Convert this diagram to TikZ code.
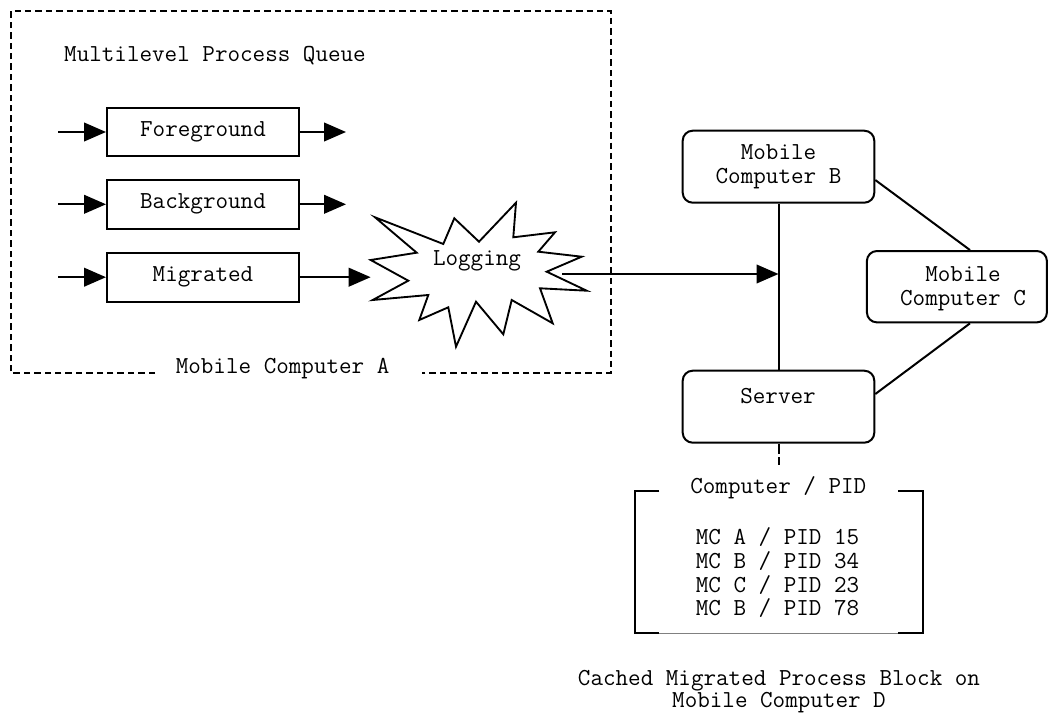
\documentclass[tikz,border=0pt]{standalone}
\usepackage{fontspec}
\usetikzlibrary{arrows.meta}
\begin{document}
\begin{tikzpicture}[x=0.75pt,y=-0.75pt,
  every node/.style={font=\ttfamily\fontsize{18.3}{17.8}\selectfont, inner sep=0pt, align=center},
  qbox/.style={draw, line width=1.5pt, minimum width=144pt, minimum height=36.6pt},
  rbox/.style={draw, line width=1.5pt, rounded corners=7.5pt, minimum height=54pt},
  arr/.style={line width=1.5pt, -{Triangle[length=16.5pt,width=14pt]}},
  link/.style={line width=1.5pt},
  frame/.style={line width=1.2pt, dash pattern=on 4.8pt off 3pt},
  bracket/.style={line width=1.5pt},
]
\useasboundingbox (0,0) rectangle (1050,713);

% ---- Mobile Computer A frame
\draw[frame] (155,373) -- (11,373) -- (11,11) -- (611,11) -- (611,373) -- (422,373);
\node (mca) at (282.6,369) {Mobile Computer A};
\node (mlq) at (215,56) {Multilevel Process Queue};

% ---- queues
\node[qbox] (fg)  at (203,132)   {Foreground};
\node[qbox] (bg)  at (203,204.3) {Background};
\node[qbox] (mig) at (203,277.2) {Migrated};

\coordinate (fgin)  at (58,132);
\coordinate (bgin)  at (58,204.3);
\coordinate (migin) at (58,277.2);
\coordinate (fgout) at (346,132);
\coordinate (bgout) at (346,204.3);

\draw[arr] (fgin) -- (fg.west);
\draw[arr] (bgin) -- (bg.west);
\draw[arr] (migin) -- (mig.west);
\draw[arr] (fg.east) -- (fgout);
\draw[arr] (bg.east) -- (bgout);

% ---- Logging star
\node[minimum width=162pt, minimum height=108pt] (log) at (478.9,274.7) {};
\draw[line width=1.4pt, line join=miter, fill=white]
 (375,217.3) -- (443.3,244) -- (454.3,218.3) -- (479,241.7) -- (516,202.7)
 -- (513.3,237.3) -- (555,232.3) -- (538.3,251.7) -- (581.7,256.7)
 -- (546.7,271.7) -- (586.7,290.7) -- (540,288.3) -- (552.7,323.3)
 -- (511.7,300) -- (503.3,334.3) -- (476,301.7) -- (456,346.7)
 -- (448.3,307.3) -- (419.3,320) -- (428.3,295) -- (372.7,300)
 -- (408.3,280.7) -- (370.7,260) -- (416.7,252.7) -- cycle;
\node (logtext) at (477,261) {Logging};
\draw[arr] (mig.east) -- (mig.east -| log.west);

% ---- network
\node[rbox, minimum width=143.7pt] (B) at (778.5,166.7) {Mobile\\Computer B};
\node[rbox, minimum width=135pt, minimum height=53.5pt] (C) at (956.9,286.7) {};
\node (Ctext) at (963,289) {Mobile\\Computer C};
\node[rbox, minimum width=143.7pt] (srv) at (778.5,406.7) {};
\node (srvtext) at (778,396) {Server};

\draw[link] (B.south) -- (srv.north);
\draw[link] ([yshift=-10pt]B.east) -- ([xshift=9.8pt]C.north);
\draw[link] ([xshift=9.8pt]C.south) -- ([yshift=9.5pt]srv.east);

\coordinate (logout) at (562,274);
\draw[arr] (logout) -- (logout -| B.south);

% ---- cached table
\coordinate (dend) at (778.5,465);
\draw[line width=1.5pt, dash pattern=on 7.5pt off 2.5pt] (srv.south) -- (dend);

\draw[bracket] (659.3,490.7) -- (635,490.7) -- (635,633.3) -- (659.3,633.3);
\draw[bracket] (898.3,490.7) -- (923.3,490.7) -- (923.3,633.3) -- (898.3,633.3);
\draw[gray, line width=0.8pt] (659.3,633.3) -- (898.3,633.3);

\node (thead) at (778.3,488) {Computer / PID};
\node (tbody) at (777.5,572.8)
  {MC A / PID 15\\MC B / PID 34\\MC C / PID 23\\MC B / PID 78};

\node[font=\ttfamily\fontsize{18.3}{16.5}\selectfont] (cap) at (779,692)
  {Cached Migrated Process Block on\\Mobile Computer D};
\end{tikzpicture}
\end{document}
